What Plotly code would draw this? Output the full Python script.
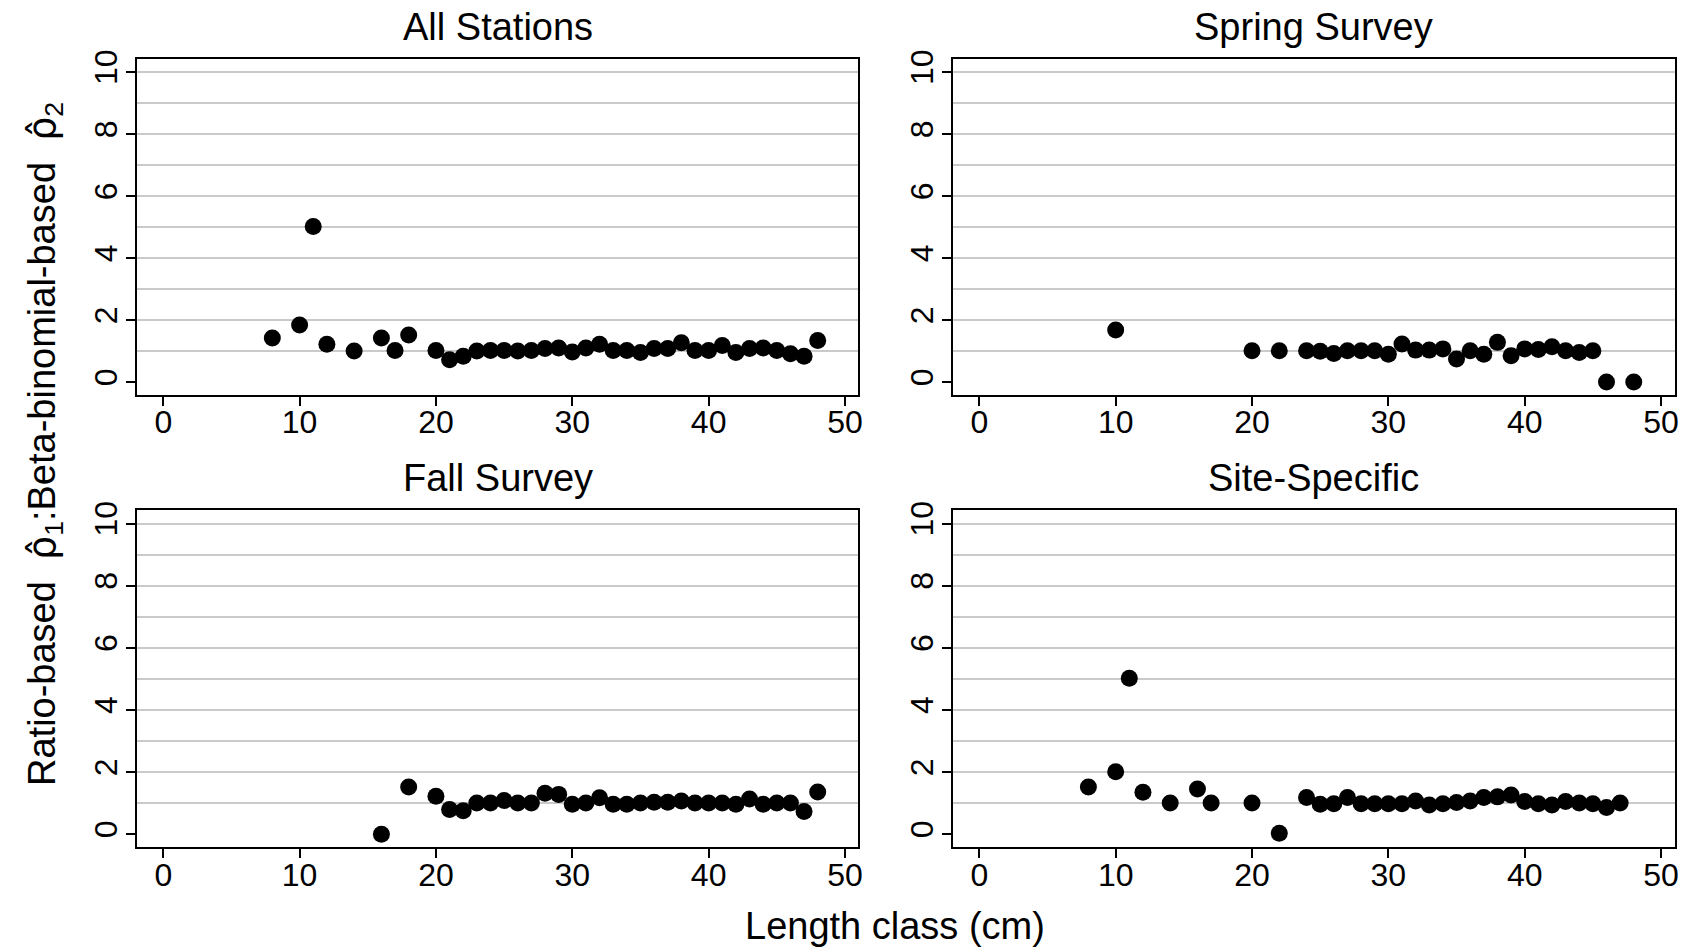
import plotly.graph_objects as go

# ---- data ----
panel_titles = ["All Stations", "Spring Survey", "Fall Survey", "Site-Specific"]

all_x = [8, 10, 11, 12, 14, 16, 17, 18, 20, 21, 22, 23, 24, 25, 26, 27, 28, 29, 30,
         31, 32, 33, 34, 35, 36, 37, 38, 39, 40, 41, 42, 43, 44, 45, 46, 47, 48]
all_y = [1.42, 1.84, 5.02, 1.22, 1.0, 1.42, 1.02, 1.52, 1.02, 0.72, 0.83, 1.0, 1.02,
         1.02, 1.0, 1.02, 1.08, 1.1, 0.97, 1.1, 1.22, 1.02, 1.02, 0.95, 1.08, 1.08,
         1.27, 1.02, 1.02, 1.18, 0.95, 1.08, 1.1, 1.02, 0.91, 0.83, 1.34]

spring_x = [10, 20, 22, 24, 25, 26, 27, 28, 29, 30, 31, 32, 33, 34, 35, 36, 37, 38,
            39, 40, 41, 42, 43, 44, 45, 46, 48]
spring_y = [1.68, 1.01, 1.01, 1.01, 0.99, 0.92, 1.01, 1.01, 1.01, 0.9, 1.23, 1.03,
            1.03, 1.07, 0.74, 1.01, 0.9, 1.28, 0.85, 1.07, 1.05, 1.14, 1.01, 0.95,
            1.01, 0.0, 0.0]

fall_x = [16, 18, 20, 21, 22, 23, 24, 25, 26, 27, 28, 29, 30, 31, 32, 33, 34, 35, 36,
          37, 38, 39, 40, 41, 42, 43, 44, 45, 46, 47, 48]
fall_y = [0.0, 1.52, 1.22, 0.79, 0.75, 1.0, 1.0, 1.08, 1.0, 1.0, 1.32, 1.28, 0.96,
          1.0, 1.17, 0.96, 0.96, 1.0, 1.03, 1.03, 1.07, 1.0, 1.0, 1.0, 0.96, 1.13,
          0.96, 1.0, 1.0, 0.73, 1.36]

site_x = [8, 10, 11, 12, 14, 16, 17, 20, 22, 24, 25, 26, 27, 28, 29, 30, 31, 32, 33,
          34, 35, 36, 37, 38, 39, 40, 41, 42, 43, 44, 45, 46, 47]
site_y = [1.52, 2.01, 5.02, 1.35, 1.0, 1.45, 1.0, 1.0, 0.03, 1.18, 0.96, 0.98, 1.18,
          0.98, 0.98, 0.98, 0.98, 1.07, 0.94, 0.98, 1.02, 1.07, 1.18, 1.2, 1.26,
          1.05, 0.98, 0.94, 1.05, 1.0, 0.98, 0.86, 1.0]

x_ticks = [0, 10, 20, 30, 40, 50]
y_ticks = [0, 2, 4, 6, 8, 10]

series = [(all_x, all_y), (spring_x, spring_y), (fall_x, fall_y), (site_x, site_y)]

# ---- layout geometry (target pixels in the photographed picture) ----
W, H = 1693, 951
col_px = [(137, 860.5), (955, 1678.5)]
row_px = [(58.3, 394), (509.3, 845.7)]

# empirical vertical correction observed for the photographed page
Y_SHIFT, Y_SCALE = 8.3, 0.9896


def px_x(p):
    return p / W


def px_y(p):
    return 1 - ((p - Y_SHIFT) / Y_SCALE) / H


FONT = "Liberation Sans, Arial, sans-serif"
TICK_SIZE = 32
TITLE_SIZE = 38

fig = go.Figure()
layout = {}
annotations = []
for i, (xs, ys) in enumerate(series):
    r, c = divmod(i, 2)
    n = "" if i == 0 else str(i + 1)
    fig.add_trace(go.Scatter(
        x=xs, y=ys, mode="markers",
        marker=dict(color="black", size=17, line=dict(width=0)),
        xaxis="x" + n, yaxis="y" + n, showlegend=False, cliponaxis=False,
    ))
    xd = [px_x(col_px[c][0]), px_x(col_px[c][1])]
    yd = [px_y(row_px[r][1]), px_y(row_px[r][0])]
    layout["xaxis" + n] = dict(
        domain=xd, anchor="y" + n, range=[-1.95, 50.99],
        tickvals=x_ticks, ticks="outside", ticklen=9, tickwidth=2, tickcolor="black",
        ticklabelstandoff=-11,
        showline=True, mirror=True, linecolor="black", linewidth=2,
        showgrid=False, zeroline=False,
        tickfont=dict(family=FONT, size=TICK_SIZE, color="black"),
    )
    layout["yaxis" + n] = dict(
        domain=yd, anchor="x" + n, range=[-0.42, 10.42],
        tickvals=y_ticks, ticks="outside", ticklen=9, tickwidth=2, tickcolor="black",
        tickangle=-90, ticklabelstandoff=-4,
        showline=True, mirror=True, linecolor="black", linewidth=2,
        showgrid=True, gridcolor="#cacaca", gridwidth=1.5,
        zeroline=True, zerolinecolor="white", zerolinewidth=3,
        minor=dict(dtick=1, tick0=0, showgrid=True, gridcolor="#cacaca", gridwidth=1.5, ticks=""),
        tickfont=dict(family=FONT, size=TICK_SIZE, color="black"),
    )
    annotations.append(dict(
        text=panel_titles[i], xref="paper", yref="paper",
        x=(xd[0] + xd[1]) / 2, y=px_y(26 if r == 0 else 477),
        xanchor="center", yanchor="middle", showarrow=False,
        font=dict(family=FONT, size=TITLE_SIZE, color="black"),
    ))

annotations.append(dict(
    text="Length class (cm)", xref="paper", yref="paper",
    x=px_x(897), y=px_y(924), xanchor="center", yanchor="middle", showarrow=False,
    font=dict(family=FONT, size=TITLE_SIZE, color="black"),
))
rho_hat = '<span style="font-family:DejaVu Sans">\u03c1\u0302</span>'
annotations.append(dict(
    text="Ratio-based  " + rho_hat + "<sub>1</sub>:Beta-binomial-based  " + rho_hat + "<sub>2</sub>",
    xref="paper", yref="paper", x=px_x(44), y=px_y(443), textangle=-90,
    xanchor="center", yanchor="middle", showarrow=False,
    font=dict(family=FONT, size=TITLE_SIZE, color="black"),
))

fig.update_layout(
    width=W, height=H,
    margin=dict(l=0, r=0, t=0, b=0),
    paper_bgcolor="white", plot_bgcolor="white",
    annotations=annotations,
    **layout,
)

pin_js = (
    "document.documentElement.style.margin='0';"
    "document.body.style.margin='0';"
    "document.body.style.overflow='hidden';"
    "var gd=document.getElementById('{plot_id}');"
    "gd.style.position='fixed';gd.style.top='0';gd.style.left='0';"
)

fig.write_html(
    "out.html",
    config={"displayModeBar": False},
    post_script=pin_js,
)
